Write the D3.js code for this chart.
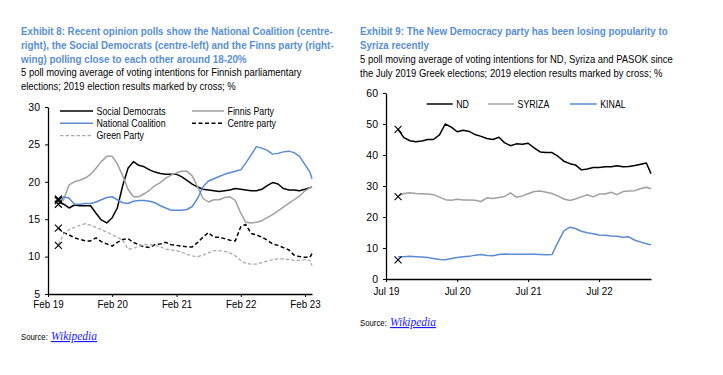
<!DOCTYPE html>
<html>
<head>
<meta charset="utf-8">
<script src="https://cdn.jsdelivr.net/npm/d3@7"></script>
<style>
  body { margin: 0; background: #fff; }
  svg { display: block; font-family: 'Liberation Sans', Arial, sans-serif; }
  .axis path, .axis line { stroke: #000; }
  .axis text { font-family: 'Liberation Sans', Arial, sans-serif; font-size: 10.5px; fill: #000; }
</style>
</head>
<body>
<svg width="723" height="375"></svg>
<script>
'use strict';
const svg = d3.select('svg');
const parse = d3.timeParse('%Y-%m-%d');

// ---------- Exhibit 8 : Finland ----------
const fi_dates = ['2019-04-01','2019-05-01','2019-06-01','2019-07-01','2019-08-01','2019-09-01','2019-10-01','2019-11-01','2019-12-01',
  '2020-01-01','2020-02-01','2020-03-01','2020-04-01','2020-05-01','2020-06-01','2020-07-01','2020-08-01','2020-09-01','2020-10-01','2020-11-01','2020-12-01',
  '2021-01-01','2021-02-01','2021-03-01','2021-04-01','2021-05-01','2021-06-01','2021-07-01','2021-08-01','2021-09-01','2021-10-01','2021-11-01','2021-12-01',
  '2022-01-01','2022-02-01','2022-03-01','2022-04-01','2022-05-01','2022-06-01','2022-07-01','2022-08-01','2022-09-01','2022-10-01','2022-11-01','2022-12-01',
  '2023-01-01','2023-02-01','2023-03-01','2023-03-13'];
const fi_social_dem = [17.4,17.0,16.5,16.9,16.8,16.8,16.8,15.8,14.9,14.5,15.2,16.5,19.5,21.8,22.7,22.2,22.0,21.6,21.3,21.1,21.0,
  21.0,21.0,20.7,20.2,19.7,19.3,19.0,18.9,18.8,18.7,18.8,18.9,19.1,19.0,18.9,18.8,18.8,19.0,19.5,19.9,19.7,19.1,18.9,18.9,18.8,19.0,19.2,19.3];
const fi_finns = [17.3,17.6,19.6,20.0,20.2,20.5,21.0,21.8,22.7,23.4,23.4,22.4,20.8,19.0,18.0,18.0,18.4,18.9,19.5,19.9,20.5,
  20.9,21.2,21.4,21.4,20.8,19.3,17.8,17.3,17.6,17.6,17.9,18.0,17.5,15.8,14.6,14.5,14.6,14.8,15.2,15.6,16.1,16.6,17.1,17.6,18.1,18.8,19.2,19.3];
const fi_nat_coalition = [17.0,18.0,17.8,17.0,17.0,17.1,17.1,17.3,17.6,17.9,18.0,17.6,17.2,17.1,17.4,17.5,17.5,17.4,17.2,16.8,16.5,
  16.2,16.2,16.2,16.3,16.7,17.8,19.3,20.1,20.4,20.7,21.0,21.2,21.4,21.6,22.5,23.6,24.7,24.5,24.2,23.7,23.8,24.0,24.1,23.9,23.4,22.3,21.3,20.4];
const fi_centre = [13.8,13.2,12.9,12.5,12.3,12.1,12.1,12.5,12.0,11.7,11.4,11.9,12.3,12.4,11.9,11.6,11.3,11.2,11.6,11.7,11.9,
  11.6,11.5,11.4,11.3,11.3,11.9,12.6,13.2,12.6,12.6,12.4,12.2,12.1,14.0,14.3,13.1,12.9,12.6,12.2,11.7,11.5,11.2,10.9,10.2,10.0,9.9,9.9,10.4];
const fi_green = [11.6,13.0,13.6,13.9,14.2,14.4,14.2,13.9,13.6,13.3,12.9,12.6,12.2,11.0,11.1,11.4,11.6,11.6,11.5,11.3,11.0,
  10.9,10.8,10.6,10.3,10.1,10.0,10.2,10.5,10.8,10.8,10.7,10.5,10.1,9.5,9.1,9.0,9.0,9.2,9.4,9.6,9.7,9.7,9.6,9.5,9.5,9.6,9.5,8.8];
const fi_election_2019 = [17.7, 17.5, 17.0, 13.8, 11.5];
const fi_names = ['Social Democrats', 'Finnis Party', 'National Coalition', 'Centre party', 'Green Party'];
const fi_ticks = ['2019-02-01','2020-02-01','2021-02-01','2022-02-01','2023-02-01'];
const fi_y_ticks = [5, 10, 15, 20, 25, 30];

// ---------- Exhibit 9 : Greece ----------
const gr_dates = ['2019-09-01','2019-10-01','2019-11-01','2019-12-01',
  '2020-01-01','2020-02-01','2020-03-01','2020-04-01','2020-05-01','2020-06-01','2020-07-01','2020-08-01','2020-09-01','2020-10-01','2020-11-01','2020-12-01',
  '2021-01-01','2021-02-01','2021-03-01','2021-04-01','2021-05-01','2021-06-01','2021-07-01','2021-08-01','2021-09-01','2021-10-01','2021-11-01','2021-12-01',
  '2022-01-01','2022-02-01','2022-03-01','2022-04-01','2022-05-01','2022-06-01','2022-07-01','2022-08-01','2022-09-01','2022-10-01','2022-11-01','2022-12-01',
  '2023-01-01','2023-02-01','2023-03-01','2023-03-25'];
const gr_nd = [48.3,45.6,44.6,44.3,44.5,45.0,45.0,46.5,50.0,49.0,47.5,48.0,47.6,46.6,46.0,45.3,
  45.0,45.7,44.0,43.0,43.6,43.5,43.8,42.3,41.0,40.8,40.8,39.6,38.0,37.2,36.8,35.2,35.5,36.0,36.0,36.2,36.2,36.5,36.2,36.3,36.6,37.0,37.4,34.0];
const gr_syriza = [26.8,27.6,27.8,27.6,27.5,27.4,27.2,26.4,25.6,25.4,25.7,25.5,25.5,25.4,25.0,26.2,
  26.0,26.3,26.6,27.8,26.4,26.8,27.5,28.2,28.4,28.0,27.6,26.8,25.8,25.3,25.8,26.5,27.2,26.5,27.4,27.4,28.0,27.2,28.2,28.4,28.5,29.2,29.6,29.1];
const gr_kinal = [7.2,7.2,7.3,7.2,7.1,6.9,6.6,6.3,6.2,6.6,6.9,7.2,7.3,7.7,7.9,7.6,
  7.5,7.9,8.1,8.0,8.0,8.0,8.0,8.0,7.9,7.8,7.9,11.8,15.5,16.7,16.3,15.4,14.9,14.6,14.2,14.1,13.9,13.8,13.5,13.6,12.5,11.9,11.4,11.0];
const gr_election_2019 = [48.3, 26.6, 6.2];
const gr_names = ['ND', 'SYRIZA', 'KINAL'];
const gr_ticks = ['2019-07-01','2020-07-01','2021-07-01','2022-07-01'];
const gr_y_ticks = [0, 10, 20, 30, 40, 50, 60];

const blue = '#5b8bd3';
const grey = '#a0a0a0';
const title_blue = '#5a8fd2';
const fmt_date = d3.timeFormat('%b %y');

// squeeze a text horizontally (the original uses a narrow typeface)
// k < 1 is a factor; k > 1 is a target width in px
function squeeze(sel, k) {
  sel.each(function() {
    const t = d3.select(this);
    const w = this.getComputedTextLength();
    const f = k > 1 ? k / w : k;
    const x = +t.attr('x') || 0;
    t.attr('x', 0).attr('transform', `translate(${x},0) scale(${f},1)`);
  });
}

// title / subtitle blocks; widths taken from the original layout
function text_lines(x, y0, step, lines, widths, opts) {
  const g = svg.append('g');
  lines.forEach((s, i) => {
    g.append('text').attr('x', x).attr('y', y0 + i * step)
      .attr('font-size', opts.size).attr('font-weight', opts.weight || 'normal')
      .attr('fill', opts.fill || '#000')
      .text(s)
      .call(squeeze, widths[i]);
  });
}
text_lines(21, 35.5, 14, ['Exhibit 8: Recent opinion polls show the National Coalition (centre-',
  'right), the Social Democrats (centre-left) and the Finns party (right-',
  'wing) polling close to each other around 18-20%'], [312, 313, 226],
  {size: 11.5, weight: 'bold', fill: title_blue});
text_lines(21, 76.5, 14, ['5 poll moving average of voting intentions for Finnish parliamentary',
  'elections; 2019 election results marked by cross; %'], [281, 215], {size: 10.3});
text_lines(360, 35.5, 13.5, ['Exhibit 9: The New Democracy party has been losing popularity to',
  'Syriza recently'], [308, 69], {size: 11.5, weight: 'bold', fill: title_blue});
text_lines(360, 63, 13.7, ['5 poll moving average of voting intentions for ND, Syriza and PASOK since',
  'the July 2019 Greek elections; 2019 election results marked by cross; %'], [313, 303], {size: 10.3});

function source(x, y) {
  svg.append('text').attr('x', x).attr('y', y).attr('font-size', 9.5).text('Source:')
    .call(squeeze, 0.82);
  svg.append('text').attr('x', x + 30).attr('y', y)
    .attr('font-family', "'Liberation Serif', serif").attr('font-style', 'italic')
    .attr('font-size', 11.5).attr('fill', '#1a1aff').attr('text-decoration', 'underline').text('Wikipedia');
}
source(21, 340);
source(360, 326);

const cross = 'M-3.5,-3.5L3.5,3.5M-3.5,3.5L3.5,-3.5';

function draw_chart(cfg) {
  const g = svg.append('g');
  const x = d3.scaleTime().domain(cfg.x_domain.map(parse)).range([cfg.left, cfg.right]);
  const y = d3.scaleLinear().domain(cfg.y_domain).range([cfg.bottom, cfg.top]);
  const dates = cfg.dates.map(parse);

  // series
  const line = d3.line().x((d, i) => x(dates[i])).y(d => y(d));
  cfg.series.forEach(s => {
    g.append('path').datum(s.values)
      .attr('fill', 'none').attr('stroke', s.color).attr('stroke-width', s.width || 1.5)
      .attr('stroke-dasharray', s.dash || null).attr('stroke-linejoin', 'round')
      .attr('d', line);
  });

  // 2019 election crosses
  g.selectAll('.cross').data(cfg.election).enter().append('path')
    .attr('transform', d => `translate(${x(dates[0])},${y(d)})`)
    .attr('d', cross).attr('stroke', '#000').attr('stroke-width', 1.1).attr('fill', 'none');

  // axes
  g.append('g').attr('class', 'axis')
    .attr('transform', `translate(${cfg.left},0)`)
    .call(d3.axisLeft(y).tickValues(cfg.y_ticks).tickSize(3).tickSizeOuter(0).tickPadding(5))
    .call(a => a.select('.domain').attr('stroke-width', 1.3));
  g.append('g').attr('class', 'axis')
    .attr('transform', `translate(0,${cfg.bottom})`)
    .call(d3.axisBottom(x).tickValues(cfg.x_ticks.map(parse)).tickFormat(fmt_date)
      .tickSize(3).tickSizeOuter(0).tickPadding(cfg.x_pad))
    .call(a => a.select('.domain').attr('stroke-width', 1.6))
    .call(a => a.selectAll('text').call(squeeze, 0.93));

  // legend
  const leg = g.append('g').attr('font-size', 10.5);
  cfg.series.forEach((s, i) => {
    const p = cfg.legend_pos[i];
    leg.append('line').attr('x1', p[0]).attr('x2', p[1]).attr('y1', p[2]).attr('y2', p[2])
      .attr('stroke', s.color).attr('stroke-width', s.width || 1.5).attr('stroke-dasharray', s.dash || null);
    leg.append('text').attr('x', p[1] + 3.5).attr('y', p[2]).attr('dy', '0.35em').text(s.name)
      .call(squeeze, 0.84);
  });
}

draw_chart({
  left: 48, right: 312, top: 107, bottom: 294,
  x_domain: ['2019-02-01', '2023-03-13'], y_domain: [5, 30],
  dates: fi_dates, x_ticks: fi_ticks, y_ticks: fi_y_ticks, x_pad: 4,
  series: [
    {name: fi_names[0], values: fi_social_dem, color: '#000'},
    {name: fi_names[1], values: fi_finns, color: grey},
    {name: fi_names[2], values: fi_nat_coalition, color: blue},
    {name: fi_names[3], values: fi_centre, color: '#000', dash: '4,2.5'},
    {name: fi_names[4], values: fi_green, color: '#a8a8a8', dash: '3.5,2', width: 1.2}
  ],
  election: fi_election_2019,
  legend_pos: [[60, 93, 111], [192, 224, 111], [60, 93, 123.3], [192, 224, 123.3], [60, 93, 135.7]]
});

draw_chart({
  left: 386, right: 651, top: 93, bottom: 279,
  x_domain: ['2019-07-01', '2023-03-25'], y_domain: [0, 60],
  dates: gr_dates, x_ticks: gr_ticks, y_ticks: gr_y_ticks, x_pad: 6,
  series: [
    {name: gr_names[0], values: gr_nd, color: '#000'},
    {name: gr_names[1], values: gr_syriza, color: grey},
    {name: gr_names[2], values: gr_kinal, color: blue}
  ],
  election: gr_election_2019,
  legend_pos: [[426.7, 452.7, 104], [488, 514, 104], [570, 596.7, 104]]
});
</script>
</body>
</html>
